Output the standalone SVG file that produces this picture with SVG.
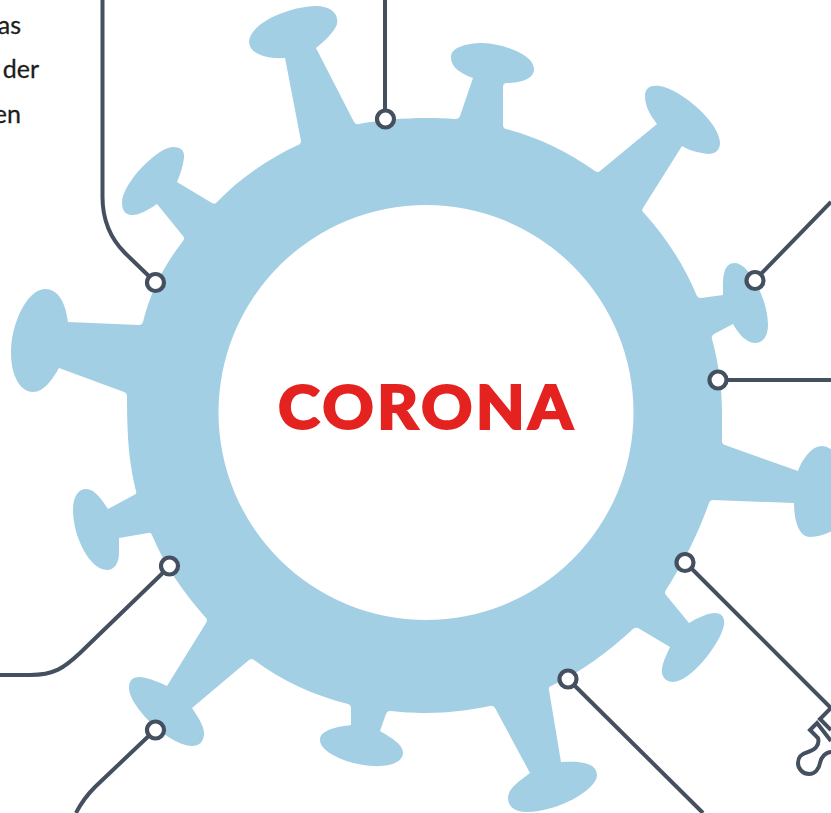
<svg xmlns="http://www.w3.org/2000/svg" width="831" height="813" viewBox="0 0 831 813">
<style>
.line{fill:none;stroke:#44505f;stroke-width:4;stroke-linecap:butt;stroke-linejoin:miter}
.dot{fill:#fff;stroke:#44505f;stroke-width:4.2}
.label{font-family:"Lato","Liberation Sans",sans-serif;font-size:25px;font-weight:400;fill:#1d1d1b;stroke:#1d1d1b;stroke-width:.3}
.title{font-family:"Lato","Liberation Sans",Arial,sans-serif;font-size:60px;font-weight:900;fill:#e42320;stroke:#e42320;stroke-width:1.8;letter-spacing:3.1px}
</style>
<rect width="831" height="813" fill="#fff"/>
<g id="virus">
<path fill="#a3cfe4" fill-rule="evenodd" d="M301 141 L285 58 C268 59 250 55 249 42 C249 25 285 7 316 6 C331 6 339 14 337 24 C335 31 325 41 316 48 L354 122 Q356 125 359 124 C380 120 404 118 426 118 C436 118 446 118 455 119 Q459 119 460 116 L473 78 C462 74 451 68 451 57 C451 48 465 43 483 43 C505 44 534 55 534 69 C534 80 518 83 507 83 Q503 83 503 87 L503 125 Q503 128 506 129 C537 137 567 151 595 171 Q598 173 600 171 L657 124 C650 115 645 106 645 96 C645 88 650 85 660 86 C682 90 720 123 720 143 C720 151 714 154 708 154 C700 153 690 151 682 146 L643 208 Q641 211 644 213 C665 236 683 263 697 296 Q698 298 701 298 L723 295 C723 280 722 263 735 263 C750 264 768 300 768 325 C768 336 763 343 755 343 C746 343 738 333 733 324 L714 334 Q711 336 712 339 C718 361 722 385 722 413 L722 441 Q722 444 725 445 L798 471 C803 458 812 446 822 446 C827 446 835 450 840 460 L840 525 C832 533 820 537 810 537 C798 537 794 518 794 503 L713 500 Q710 500 709 503 C698 534 684 562 666 590 Q664 593 666 595 L689 623 C697 618 708 613 715 613 C722 613 725 618 724 625 C720 645 690 682 673 682 C665 682 661 676 662 669 C663 661 667 654 670 647 L638 628 Q635 627 633 629 C608 652 581 672 551 686 Q548 687 549 690 L561 762 C578 761 597 762 597 775 C597 790 557 812 527 812 C514 812 508 806 508 798 C508 788 521 780 530 773 L495 708 Q493 705 490 706 C470 710 449 713 426 713 C413 713 400 712 390 711 Q387 711 386 714 L380 731 C390 737 403 744 403 753 C403 762 390 767 373 766 C350 765 320 753 320 740 C320 730 336 727 351 725 L351 708 Q351 705 348 704 C313 695 282 681 254 660 Q252 658 249 660 L192 708 C198 717 204 726 204 733 C204 742 199 746 192 746 C168 745 129 706 129 688 C129 680 133 677 140 677 C149 678 159 682 167 686 L206 623 Q208 620 206 618 C183 592 165 566 152 535 Q151 532 148 533 L119 538 L119 553 C119 562 115 570 107 570 C90 570 73 537 73 510 C73 497 78 489 86 489 C95 489 102 500 108 509 L134 495 Q137 494 136 491 C130 465 127 445 127 396 Q127 393 124 392 L59 368 C52 380 44 392 33 392 C20 392 11 375 11 353 C11 322 28 289 45 289 C60 289 66 306 68 322 L139 325 Q142 325 143 322 C150 293 164 265 183 241 Q185 238 183 236 L157 204 C148 210 140 215 132 215 C125 215 122 210 122 202 C123 182 158 147 173 147 C181 147 185 151 184 158 C183 166 180 175 177 182 L212 203 Q214 204 216 203 C240 178 268 159 298 145 Q301 144 301 141 Z M426 205 A207.5 207.5 0 1 0 426 620 A207.5 207.5 0 1 0 426 205 Z"/>
</g>
<g id="title"><text class="title" transform="translate(278 428.500) scale(1.06 1)">CORONA</text></g>
<g id="labels">
<text class="label" x="21" y="34" text-anchor="end">as</text>
<text class="label" x="39" y="78" text-anchor="end">der</text>
<text class="label" x="21" y="123" text-anchor="end">en</text>
</g>
<g id="connectors">
<path class="line" d="M102.500 0 V197 C102.500 220 110 238 125 253 L155 282"/>
<path class="line" d="M385 0 V119"/>
<path class="line" d="M831 202 L755 280"/>
<path class="line" d="M718 380 H831"/>
<path class="line" d="M685 562 L831 708"/>
<path class="line" d="M568 679 L703 813"/>
<path class="line" d="M170 566 L80 653 C64 668 54 675 30 675 H0"/>
<path class="line" d="M155 730 L95 787 C86 796 80 805 76 813"/>
<path class="line" d="M831 708 L820 719 L831 730"/>
<path class="line" d="M831 741 L817 723 L810 730 L818 738 C820 745 815 750 808 752 C801 754 798 757 798 763 C798 769 803 774 809 774 C815 774 819 769 820 763 C821 757 826 752 831 752"/>
</g>
<g id="node-1"><circle class="dot" cx="385.500" cy="119" r="8.500"/></g>
<g id="node-2"><circle class="dot" cx="155.500" cy="282.500" r="8.500"/></g>
<g id="node-3"><circle class="dot" cx="755" cy="280.500" r="8.500"/></g>
<g id="node-4"><circle class="dot" cx="718" cy="380" r="8.500"/></g>
<g id="node-5"><circle class="dot" cx="685" cy="562.500" r="8.500"/></g>
<g id="node-6"><circle class="dot" cx="568" cy="679" r="8.500"/></g>
<g id="node-7"><circle class="dot" cx="169.500" cy="566" r="8.500"/></g>
<g id="node-8"><circle class="dot" cx="155.500" cy="730" r="8.500"/></g>
</svg>
